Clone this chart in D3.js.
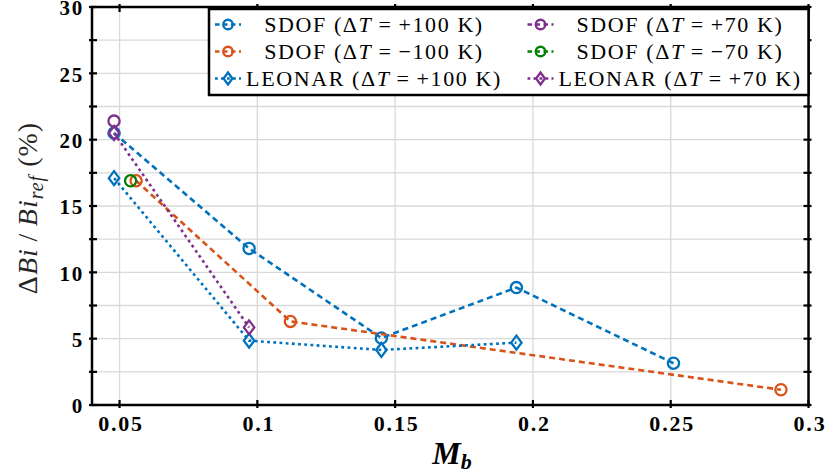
<!DOCTYPE html>
<html>
<head>
<meta charset="utf-8">
<script src="https://cdn.jsdelivr.net/npm/d3@7"></script>
<style>
  html, body { margin: 0; padding: 0; background: #ffffff; }
  svg { display: block; }
</style>
</head>
<body>
<div id="chart"></div>
<script>
// ---------------- DATA ----------------
const xTicks = [0.05, 0.1, 0.15, 0.2, 0.25, 0.3];
const xTickLabels = ["0.05", "0.1", "0.15", "0.2", "0.25", "0.3"];
const yTicks = [0, 5, 10, 15, 20, 25, 30];
const yTickLabels = ["0", "5", "10", "15", "20", "25", "30"];
const yMinorTicks = [2.5, 7.5, 12.5, 17.5, 22.5, 27.5];
const xDomain = [0.04, 0.3];
const yDomain = [0, 30];

const sdofP100X = [0.048, 0.097, 0.145, 0.194, 0.251];
const sdofP100Y = [20.5, 11.8, 5.05, 8.85, 3.15];
const sdofP70X = [0.048];
const sdofP70Y = [21.4];
const sdofM100X = [0.056, 0.112, 0.29];
const sdofM100Y = [16.9, 6.3, 1.15];
const sdofM70X = [0.054];
const sdofM70Y = [16.9];
const leonarP100X = [0.048, 0.097, 0.145, 0.194];
const leonarP100Y = [17.1, 4.85, 4.15, 4.7];
const leonarP70X = [0.048, 0.097];
const leonarP70Y = [20.5, 5.85];

const seriesNames = ["SDOF", "SDOF", "SDOF", "SDOF", "LEONAR", "LEONAR"];
const seriesDT = ["+100", "+70", "\u2212100", "\u221270", "+100", "+70"];

// ---------------- BUILD ----------------
const W = 828, H = 473;
const margin = { left: 92, right: 19.5, top: 7, bottom: 68 };
const colors = { blue: "#0072BD", orange: "#D95319", purple: "#7E2F8E", green: "#008000" };

const series = [
  { name: seriesNames[0], dt: seriesDT[0], xs: sdofP100X, ys: sdofP100Y, color: colors.blue, style: "dash", marker: "circle" },
  { name: seriesNames[1], dt: seriesDT[1], xs: sdofP70X, ys: sdofP70Y, color: colors.purple, style: "dash", marker: "circle" },
  { name: seriesNames[2], dt: seriesDT[2], xs: sdofM100X, ys: sdofM100Y, color: colors.orange, style: "dash", marker: "circle" },
  { name: seriesNames[3], dt: seriesDT[3], xs: sdofM70X, ys: sdofM70Y, color: colors.green, style: "dash", marker: "circle" },
  { name: seriesNames[4], dt: seriesDT[4], xs: leonarP100X, ys: leonarP100Y, color: colors.blue, style: "dot", marker: "diamond" },
  { name: seriesNames[5], dt: seriesDT[5], xs: leonarP70X, ys: leonarP70Y, color: colors.purple, style: "dot", marker: "diamond" }
];
const dashFor = s => s === "dash" ? "6,4" : "2.8,3.4";

const svg = d3.select("#chart").append("svg").attr("width", W).attr("height", H);

const x = d3.scaleLinear().domain(xDomain).range([margin.left, W - margin.right]);
const y = d3.scaleLinear().domain(yDomain).range([H - margin.bottom, margin.top]);
const x0 = x.range()[0], x1 = x.range()[1], y0 = y.range()[0], y1 = y.range()[1];

// grid
const grid = svg.append("g");
grid.selectAll("line.gx").data(xTicks.filter(t => t > xDomain[0] && t < xDomain[1])).enter()
  .append("line").attr("x1", d => x(d)).attr("x2", d => x(d)).attr("y1", y0).attr("y2", y1)
  .attr("stroke", "#d9d9d9").attr("stroke-width", 1.3);
grid.selectAll("line.gy").data(yMinorTicks.concat(yTicks.filter(t => t > yDomain[0] && t < yDomain[1]))).enter()
  .append("line").attr("x1", x0).attr("x2", x1).attr("y1", d => y(d)).attr("y2", d => y(d))
  .attr("stroke", "#d9d9d9").attr("stroke-width", 1.3);

// series lines and markers
const line = d3.line().x(d => x(d[0])).y(d => y(d[1]));
const diamond = (cx, cy, rx, ry) => `M${cx},${cy - ry}L${cx + rx},${cy}L${cx},${cy + ry}L${cx - rx},${cy}Z`;

function drawMarker(g, s, cx, cy, scale) {
  if (s.marker === "circle") {
    g.append("circle").attr("cx", cx).attr("cy", cy).attr("r", 5.6 * scale)
      .attr("fill", "none").attr("stroke", s.color).attr("stroke-width", 2.3);
  } else {
    g.append("path").attr("d", diamond(cx, cy, 5.2 * scale, 7 * scale))
      .attr("fill", "none").attr("stroke", s.color).attr("stroke-width", 2.3);
  }
}

const plot = svg.append("g");
series.forEach(s => {
  const pts = s.xs.map((v, i) => [v, s.ys[i]]);
  const g = plot.append("g");
  if (pts.length > 1) {
    g.append("path").attr("d", line(pts)).attr("fill", "none")
      .attr("stroke", s.color).attr("stroke-width", 2.6)
      .attr("stroke-dasharray", dashFor(s.style));
  }
  pts.forEach(p => drawMarker(g, s, x(p[0]), y(p[1]), 1));
});

// axes box
const axG = svg.append("g");
axG.append("rect").attr("x", x0).attr("y", y1).attr("width", x1 - x0).attr("height", y0 - y1)
  .attr("fill", "none").attr("stroke", "#000").attr("stroke-width", 2.5);

const tickIn = 5, tickOut = 3;
xTicks.forEach(t => {
  axG.append("line").attr("x1", x(t)).attr("x2", x(t)).attr("y1", y0 + tickOut).attr("y2", y0 - tickIn).attr("stroke", "#000").attr("stroke-width", 2.2);
  axG.append("line").attr("x1", x(t)).attr("x2", x(t)).attr("y1", y1 - tickOut).attr("y2", y1 + tickIn).attr("stroke", "#000").attr("stroke-width", 2.2);
});
yTicks.concat(yMinorTicks).forEach(t => {
  axG.append("line").attr("x1", x0 - tickOut).attr("x2", x0 + tickIn).attr("y1", y(t)).attr("y2", y(t)).attr("stroke", "#000").attr("stroke-width", 2.2);
  axG.append("line").attr("x1", x1 + tickOut).attr("x2", x1 - tickIn).attr("y1", y(t)).attr("y2", y(t)).attr("stroke", "#000").attr("stroke-width", 2.2);
});

const serif = "'Liberation Serif', 'Times New Roman', serif";
// tick labels
const xAxisG = svg.append("g").attr("transform", `translate(0,${y0})`)
  .call(d3.axisBottom(x).tickValues(xTicks).tickFormat((d, i) => xTickLabels[i]).tickSize(0).tickPadding(0));
xAxisG.select(".domain").remove();
xAxisG.selectAll("text").attr("dy", null).attr("y", 26).attr("dx", 1)
  .style("font-family", serif).style("font-weight", "bold").style("font-size", "22px")
  .style("letter-spacing", "1.8px").attr("fill", "#000");

const yAxisG = svg.append("g").attr("transform", `translate(${x0},0)`)
  .call(d3.axisLeft(y).tickValues(yTicks).tickFormat((d, i) => yTickLabels[i]).tickSize(0).tickPadding(0));
yAxisG.select(".domain").remove();
yAxisG.selectAll("text").attr("x", -8).attr("dy", "0.37em")
  .style("font-family", serif).style("font-weight", "bold").style("font-size", "21px")
  .style("letter-spacing", "1.8px").attr("fill", "#000");

// x label
const xl = svg.append("text").attr("x", 452).attr("y", 464).attr("text-anchor", "middle")
  .style("font-family", serif).attr("fill", "#000");
xl.append("tspan").text("M").style("font-weight", "bold").style("font-style", "italic").style("font-size", "32px");
xl.append("tspan").text("b").attr("dy", 5).style("font-style", "italic").style("font-size", "22px").style("font-weight", "bold");

// y label
const yl = svg.append("text").attr("transform", "translate(37,208) rotate(-90)").attr("text-anchor", "middle")
  .style("font-family", serif).style("font-size", "28px").style("letter-spacing", "1px").attr("fill", "#262626");
yl.append("tspan").text("\u0394");
yl.append("tspan").text("Bi").style("font-style", "italic");
yl.append("tspan").text("\u2009/\u2009");
yl.append("tspan").text("Bi").style("font-style", "italic");
yl.append("tspan").text("ref").style("font-style", "italic").style("font-size", "20px").attr("dy", 6);
yl.append("tspan").text(" (%)").attr("dy", -6);

// legend
const lg = svg.append("g");
lg.append("rect").attr("x", 209).attr("y", 9).attr("width", x1 - 209).attr("height", 86)
  .attr("fill", "#fff").attr("stroke", "#000").attr("stroke-width", 2.5);
const colMarkerX = [228, 540.5];
const colTextX = [374, 680];
const rowY = [24.5, 51.5, 78.5];
series.forEach((s, i) => {
  const col = i % 2, row = Math.floor(i / 2);
  const cy = rowY[row], cx = colMarkerX[col];
  const g = lg.append("g");
  g.append("line").attr("x1", cx - 13).attr("x2", cx + 13).attr("y1", cy).attr("y2", cy)
    .attr("stroke", s.color).attr("stroke-width", 2.6).attr("stroke-dasharray", s.style === "dash" ? "4.5,3.5" : "2.8,3.2");
  drawMarker(g, s, cx, cy, 0.85);
  const t = g.append("text").attr("x", colTextX[col]).attr("y", cy + 7).attr("text-anchor", "middle")
    .style("font-family", serif).style("font-size", "22px").style("letter-spacing", "1.6px").attr("fill", "#000");
  t.append("tspan").text(s.name + " (\u0394");
  t.append("tspan").text("T").style("font-style", "italic");
  t.append("tspan").text("\u2009=\u2009" + s.dt + " K)");
});
</script>
</body>
</html>
